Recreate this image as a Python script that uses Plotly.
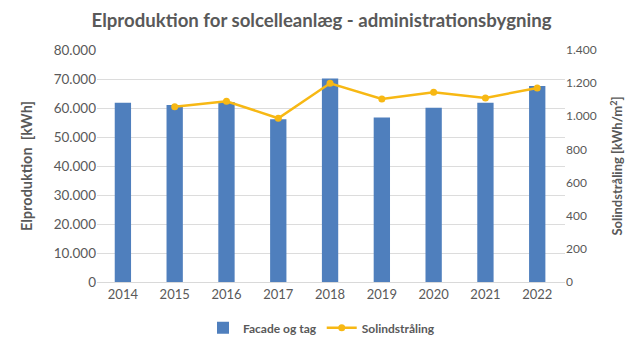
import plotly.graph_objects as go

# Annual figures for the administration building's solar installation
years = ["2014", "2015", "2016", "2017", "2018", "2019", "2020", "2021", "2022"]
production_kwh = [61800, 61000, 62100, 56100, 70200, 56700, 60100, 61800, 67600]
irradiation_years = ["2015", "2016", "2017", "2018", "2019", "2020", "2021", "2022"]
irradiation = [1058, 1091, 988, 1199, 1105, 1145, 1111, 1171]

left_ticks = [0, 10000, 20000, 30000, 40000, 50000, 60000, 70000, 80000]
right_ticks = [0, 200, 400, 600, 800, 1000, 1200, 1400]

grey = "#595959"
font_family = "Lato, 'Liberation Sans', sans-serif"

fig = go.Figure()
fig.add_trace(go.Bar(
    x=years, y=production_kwh, name="Facade og tag",
    marker=dict(color="#4f7fbd", line=dict(width=0)),
    yaxis="y",
))
fig.add_trace(go.Scatter(
    x=irradiation_years, y=irradiation, name="Solindstråling",
    mode="lines+markers",
    line=dict(color="#f7b814", width=2.5),
    marker=dict(color="#f7b814", size=7),
    yaxis="y2",
))

fig.update_layout(
    width=643, height=348,
    margin=dict(l=97, r=78, t=50, b=66),
    paper_bgcolor="white", plot_bgcolor="white",
    separators=",.",
    bargap=0.685,
    font=dict(family=font_family, color=grey, size=13),
    title=dict(
        text="<b>Elproduktion for solcelleanlæg - administrationsbygning</b>",
        x=0.5, xref="container", xanchor="center", y=0.94, yanchor="middle",
        font=dict(size=18.6, color=grey, family=font_family),
    ),
    xaxis=dict(
        type="category", showgrid=False, zeroline=False,
        showline=True, linecolor="#d9d9d9", linewidth=1,
        ticks="", tickfont=dict(size=13, color=grey),
    ),
    yaxis=dict(
        range=[0, 80000], tickvals=left_ticks, tickformat=",d",
        showgrid=True, gridcolor="#dcdcdc", gridwidth=1, zeroline=False,
        tickfont=dict(size=13.5, color=grey),
        title=dict(text="<b>Elproduktion  [kWh]</b>", font=dict(size=14.5, color=grey), standoff=17),
    ),
    yaxis2=dict(
        range=[0, 1400], tickvals=right_ticks, tickformat=",d",
        overlaying="y", side="right", showgrid=False, zeroline=False,
        tickfont=dict(size=12, color=grey),
        title=dict(text="<b>Solindstråling [kWh/m<sup>2</sup>]</b>", font=dict(size=13, color=grey), standoff=17),
    ),
    legend=dict(
        orientation="h", x=0.5, xref="container", xanchor="center",
        y=0.058, yref="container", yanchor="middle",
        font=dict(size=12, color=grey, family=font_family, weight="bold"),
        itemwidth=30, traceorder="normal",
    ),
)
fig.write_html("out.html")
